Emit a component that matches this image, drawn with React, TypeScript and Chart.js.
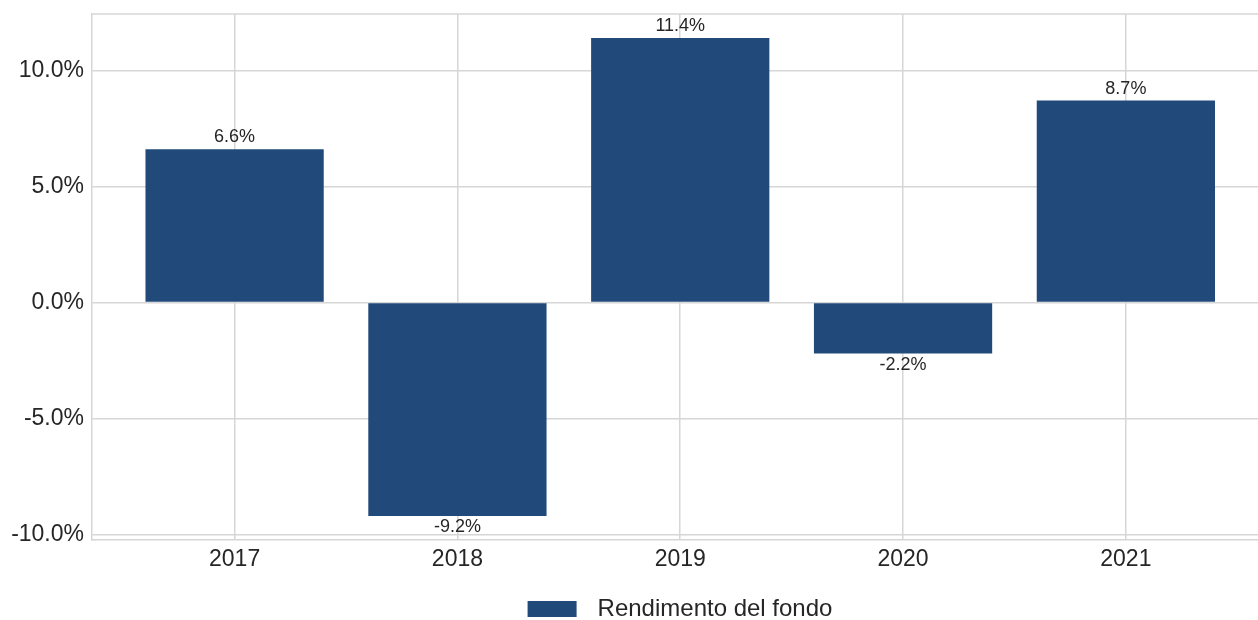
import React, { useEffect, useRef } from "react";
import { Chart, registerables } from "chart.js";

Chart.register(...registerables);

const categories = ["2017", "2018", "2019", "2020", "2021"];
const values = [6.6, -9.2, 11.4, -2.2, 8.7];
const yTicks = [-10, -5, 0, 5, 10];
const seriesLabel = "Rendimento del fondo";

const FONT = "'Liberation Sans', Arial, Helvetica, sans-serif";
const BAR_COLOR = "#214a7b";
const GRID = "#d6d6d6";
const TEXT = "#262626";

export default function App() {
  const ref = useRef<HTMLCanvasElement | null>(null);

  useEffect(() => {
    if (!ref.current) return;

    const overlay = {
      id: "overlay",
      afterDatasetsDraw(chart: any) {
        const { ctx, chartArea } = chart;
        const xs = chart.scales.x;
        const ys = chart.scales.y;
        ctx.save();
        // top frame line
        ctx.strokeStyle = GRID;
        ctx.lineWidth = 1.5;
        ctx.beginPath();
        ctx.moveTo(chartArea.left, chartArea.top);
        ctx.lineTo(chartArea.right, chartArea.top);
        ctx.stroke();
        // value labels
        ctx.fillStyle = TEXT;
        ctx.font = `18px ${FONT}`;
        ctx.textAlign = "center";
        values.forEach((v, i) => {
          const px = xs.getPixelForValue(i);
          const py = ys.getPixelForValue(v);
          const txt = v.toFixed(1) + "%";
          if (v >= 0) {
            ctx.textBaseline = "bottom";
            ctx.fillText(txt, px, py - 3);
          } else {
            ctx.textBaseline = "top";
            ctx.fillText(txt, px, py + 2);
          }
        });
        // legend
        const ds = chart.data.datasets[0];
        ctx.font = `24px ${FONT}`;
        const tw = ctx.measureText(ds.label).width;
        const boxW = 49;
        const boxH = 16;
        const gap = 21;
        const total = boxW + gap + tw;
        const lx = 680 - total / 2;
        const cy = 609;
        ctx.fillStyle = BAR_COLOR;
        ctx.fillRect(lx, cy - boxH / 2, boxW, boxH);
        ctx.fillStyle = TEXT;
        ctx.textAlign = "left";
        ctx.textBaseline = "middle";
        ctx.fillText(ds.label, lx + boxW + gap, cy);
        ctx.restore();
      },
    };

    const chart = new Chart(ref.current, {
      type: "bar",
      data: {
        datasets: [
          {
            label: seriesLabel,
            data: values.map((v, i) => ({ x: i, y: v })),
            backgroundColor: BAR_COLOR,
            borderWidth: 0,
            barPercentage: 0.8,
            categoryPercentage: 1,
          },
        ],
      },
      options: {
        animation: false,
        responsive: false,
        maintainAspectRatio: false,
        layout: { padding: { top: 14, right: 0, left: 0, bottom: 0 } },
        plugins: {
          legend: { display: false },
          tooltip: { enabled: false },
        },
        scales: {
          x: {
            type: "linear",
            offset: false,
            min: -0.64,
            max: 4.593,
            afterBuildTicks: (s: any) => {
              s.ticks = categories.map((_, i) => ({ value: i }));
            },
            afterFit: (s: any) => {
              s.height = 80;
              s.paddingLeft = 0;
              s.paddingRight = 0;
            },
            ticks: {
              callback: (v: any) => categories[Math.round(Number(v))] ?? "",
              color: TEXT,
              font: { family: FONT, size: 23 },
              padding: 6,
              maxRotation: 0,
              autoSkip: false,
            },
            grid: { color: GRID, lineWidth: 1.5, drawTicks: false, offset: false },
            border: { display: true, color: GRID, width: 1.5 },
          },
          y: {
            type: "linear",
            min: -10.23,
            max: 12.43,
            afterBuildTicks: (s: any) => {
              s.ticks = yTicks.map((v) => ({ value: v }));
            },
            afterFit: (s: any) => {
              s.width = 92;
              s.paddingTop = 0;
              s.paddingBottom = 0;
            },
            ticks: {
              callback: (v: any) => Number(v).toFixed(1) + "%",
              color: TEXT,
              font: { family: FONT, size: 23 },
              padding: 8,
            },
            grid: { color: GRID, lineWidth: 1.5, drawTicks: false },
            border: { display: true, color: GRID, width: 1.5 },
          },
        },
      },
      plugins: [overlay],
    });

    return () => chart.destroy();
  }, []);

  return (
    <div style={{ position: "fixed", left: 0, top: 0, width: 1258, height: 620, background: "#fff" }}>
      <canvas ref={ref} width={1258} height={620} style={{ width: 1258, height: 620, display: "block" }} />
    </div>
  );
}
